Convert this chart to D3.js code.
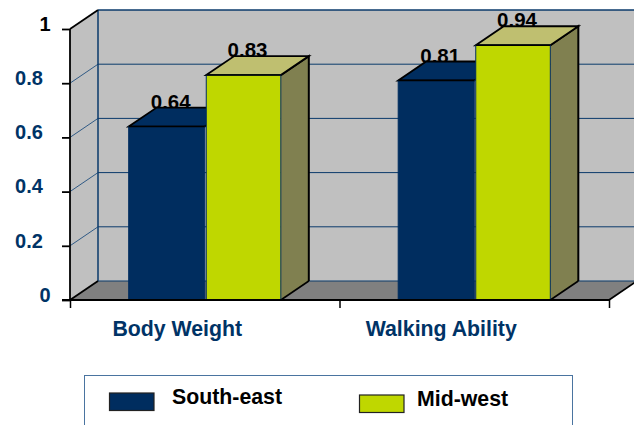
<!DOCTYPE html>
<html><head><meta charset="utf-8">
<script src="https://cdnjs.cloudflare.com/ajax/libs/d3/7.8.5/d3.min.js"></script>
<style>html,body{margin:0;padding:0;background:#fff;overflow:hidden}svg{display:block}text{font-family:"Liberation Sans",Arial,sans-serif;font-weight:bold}</style>
</head><body><svg id="c" width="634" height="425"></svg>
<script>
const categories = ["Body Weight", "Walking Ability"];
const seriesNames = ["South-east", "Mid-west"];
const southEast = [0.64, 0.81];
const midWest = [0.83, 0.94];
const yTicks = [0, 0.2, 0.4, 0.6, 0.8, 1];
const valuesBySeries = [southEast, midWest];

const NAVY = "#002D5F", LABEL = "#003366", GREEN = "#BFD700";
const SIDE = "#808050", TOPFACE = "#BFBF70", WALL = "#C0C0C0", FLOOR = "#808080";
const plotLeft = 70, plotRight = 609, base = 300, plotTop = 29, dx = 28, dy = -19;

const svg = d3.select("#c");
const x = d3.scaleBand().domain(categories).range([plotLeft, plotRight]);
const x1 = d3.scaleBand().domain(seriesNames).range([0, x.bandwidth()]).paddingInner(0).paddingOuter(0.76);
const y = d3.scaleLinear().domain([0, 1]).range([base, plotTop]);
const poly = pts => d3.line()(pts) + "Z";

// walls and floor
svg.append("path").attr("d", poly([[plotLeft+dx, y(1)+dy],[plotRight+dx, y(1)+dy],[plotRight+dx, base+dy],[plotLeft+dx, base+dy]])).attr("fill", WALL);
svg.append("path").attr("d", poly([[plotLeft, base],[plotLeft+dx, base+dy],[plotLeft+dx, y(1)+dy],[plotLeft, y(1)]])).attr("fill", WALL);
svg.append("path").attr("d", poly([[plotLeft, base],[plotLeft+dx, base+dy],[plotRight+dx, base+dy],[plotRight, base]])).attr("fill", FLOOR);

// gridlines
yTicks.forEach(t => {
  const strong = t === 0 || t === 1;
  svg.append("path").attr("fill", "none").attr("stroke", "#0A3A6B")
    .attr("stroke-width", t === 1 ? 1.6 : 1)
    .attr("d", d3.line()([[plotLeft+dx, y(t)+dy],[plotRight+dx, y(t)+dy]]));
  if (!strong) svg.append("path").attr("fill", "none").attr("stroke", "#1F4E7E").attr("stroke-width", 0.9)
    .attr("d", d3.line()([[plotLeft, y(t)],[plotLeft+dx, y(t)+dy]]));
});
svg.append("line").attr("x1", plotLeft+dx).attr("x2", plotLeft+dx).attr("y1", y(1)+dy).attr("y2", base+dy).attr("stroke", "#0A3A6B").attr("stroke-width", 1.5);

// value labels sit behind the bar tops
const groups = categories.map((c, i) => seriesNames.map((s, j) => ({c, s, j, v: valuesBySeries[j][i]}))).flat();
const labelLayer = svg.append("g"), barLayer = svg.append("g");
groups.forEach(d => {
  const blue = d.j === 0;
  const a = x(d.c) + x1(d.s) + (blue ? 0.5 : 1.5), b = x(d.c) + x1(d.s) + x1.bandwidth() - (blue ? 0 : 0.5), t = y(d.v);
  const g = barLayer.append("g");
  if (!blue) {
    g.append("path").attr("d", poly([[b, t],[b+dx, t+dy],[b+dx, base+dy],[b, base]])).attr("fill", SIDE);
    g.append("path").attr("d", d3.line()([[b, t],[b+dx, t+dy],[b+dx, base+dy]])).attr("fill", "none").attr("stroke", "#000").attr("stroke-width", 2);
    g.append("path").attr("d", d3.line()([[b+dx, base+dy],[b, base]])).attr("fill", "none").attr("stroke", "#000").attr("stroke-width", 1.6);
  }
  g.append("path").attr("d", poly([[a, t],[a+dx, t+dy],[b+dx, t+dy],[b, t]])).attr("fill", blue ? NAVY : TOPFACE);
  g.append("path").attr("d", poly([[a, t],[a+dx, t+dy],[b+dx, t+dy],[b, t]])).attr("fill", "none").attr("stroke", "#000").attr("stroke-width", 1.8);
  g.append("rect").attr("x", a).attr("y", t).attr("width", b - a).attr("height", base - t)
    .attr("fill", blue ? NAVY : GREEN).attr("stroke", NAVY).attr("stroke-width", 1);
  g.append("line").attr("x1", a).attr("x2", b).attr("y1", t).attr("y2", t).attr("stroke", "#000").attr("stroke-width", 1.6);
  labelLayer.append("text").attr("x", (a + b) / 2 + 4).attr("y", t - 18 + (d.v === 0.81 ? 1 : 0)).attr("text-anchor", "middle")
    .attr("font-size", 20.5).attr("fill", "#000").text(d.v.toFixed(2));
});

// outline of the 3D box, front edges
svg.append("path").attr("d", d3.line()([[plotLeft, y(1)],[plotLeft+dx, y(1)+dy]])).attr("stroke", "#000").attr("stroke-width", 1.8).attr("fill", "none");
svg.append("path").attr("d", d3.line()([[plotLeft, base],[plotLeft+dx, base+dy]])).attr("stroke", "#000").attr("stroke-width", 1.8).attr("fill", "none");
svg.append("path").attr("d", d3.line()([[plotRight, base],[plotRight+dx, base+dy]])).attr("stroke", "#000").attr("stroke-width", 1.8).attr("fill", "none");

// axes
const yAxis = d3.axisLeft(y).tickValues(yTicks).tickSize(8).tickFormat("");
const ya = svg.append("g").attr("transform", `translate(${plotLeft},0)`).call(yAxis);
ya.selectAll("path,line").attr("stroke", "#000").attr("stroke-width", 1.8);
ya.select(".domain").attr("d", `M0,${y(1)}V${base}`);
ya.selectAll(".tick").append("text")
  .attr("x", d => Number.isInteger(d) ? -25 : -41).attr("y", -6).attr("dy", "0.36em")
  .attr("text-anchor", "middle").attr("font-size", 20)
  .attr("fill", d => d === 1 ? "#000" : LABEL).text(d => d3.format("")(d));

const boundary = d3.scalePoint().domain(d3.range(categories.length + 1)).range([plotLeft, plotRight]);
const xa = svg.append("g").attr("transform", `translate(0,${base})`)
  .call(d3.axisBottom(boundary).tickSize(8).tickFormat(""));
xa.selectAll("path,line").attr("stroke", "#000").attr("stroke-width", 1.5);
xa.select(".domain").attr("d", `M62,0H${plotRight}`).attr("stroke-width", 2);
const catLabelShift = [-27.5, -33];
categories.forEach((c, i) => {
  svg.append("text").attr("x", x(c) + x.bandwidth() / 2 + catLabelShift[i]).attr("y", 336).attr("text-anchor", "middle")
    .attr("font-size", 21.3).attr("fill", LABEL).text(c);
});

// legend
svg.append("rect").attr("x", 84.5).attr("y", 375.5).attr("width", 488).attr("height", 80)
  .attr("fill", "#fff").attr("stroke", "#4A74A0").attr("stroke-width", 1);
const legendX = [109.5, 359.5], legendY = [393, 395], legendText = [172, 417], legendBase = [403.5, 405.5];
seriesNames.forEach((s, i) => {
  svg.append("rect").attr("x", legendX[i]).attr("y", legendY[i]).attr("width", 44.5).attr("height", 17.5)
    .attr("fill", i ? GREEN : NAVY).attr("stroke", "#222").attr("stroke-width", 1.2);
  svg.append("text").attr("x", legendText[i]).attr("y", legendBase[i]).attr("font-size", 21.3).attr("fill", "#000").text(s);
});
</script></body></html>
